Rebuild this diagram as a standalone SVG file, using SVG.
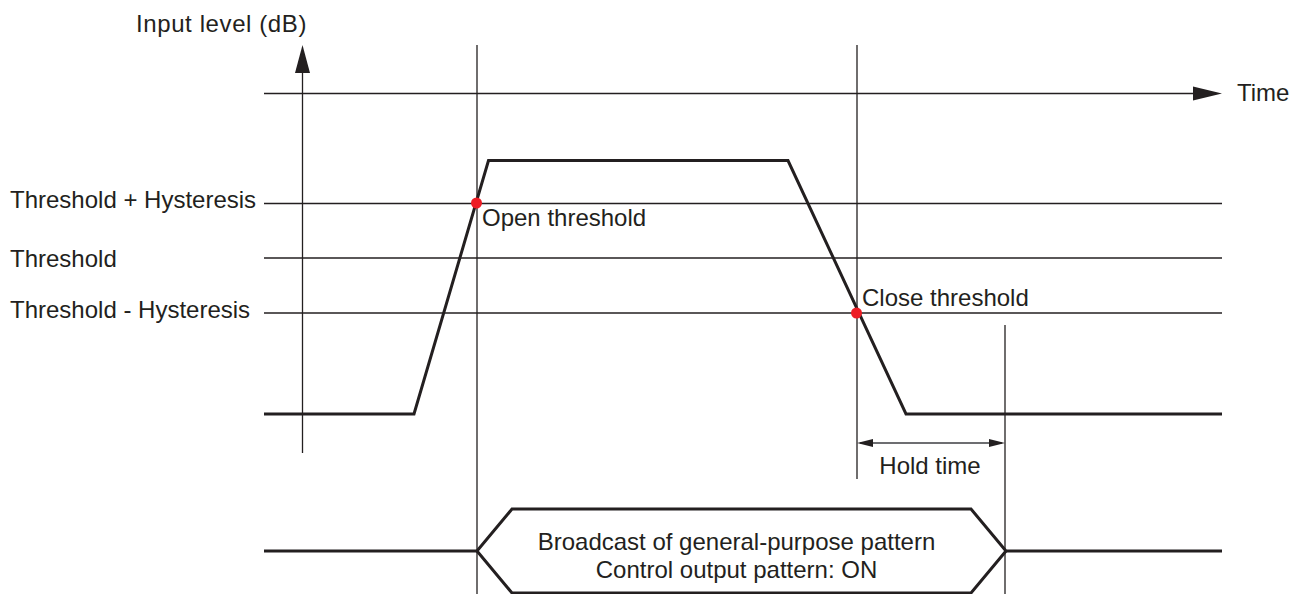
<svg xmlns="http://www.w3.org/2000/svg" width="1304" height="594" viewBox="0 0 1304 594">
<style>
text{font-family:"Liberation Sans",Arial,sans-serif;font-size:24px;fill:#231f20}
.thin{stroke:#231f20;stroke-width:1.3;fill:none}
.sig{stroke:#231f20;stroke-width:3;fill:none;stroke-linejoin:miter}
.dot{fill:#ed1c24}
.hold{stroke:#6d6e71;stroke-width:2;fill:none}
</style>
<rect width="1304" height="594" fill="#fff"/>
<g id="axes">
<line class="thin" x1="302.5" y1="453" x2="302.5" y2="70"/>
<polygon points="302.5,45 295,73 310,73" fill="#231f20"/>
<line class="thin" x1="264" y1="93.5" x2="1196" y2="93.5"/>
<polygon points="1222,93.5 1193,86.5 1193,100.5" fill="#231f20"/>
<text x="136" y="32" letter-spacing="0.6">Input level (dB)</text>
<text x="1237" y="101">Time</text>
</g>
<g id="levels">
<line class="thin" x1="264" y1="203.5" x2="1222" y2="203.5"/>
<line class="thin" x1="264" y1="258" x2="1222" y2="258"/>
<line class="thin" x1="264" y1="313" x2="1222" y2="313"/>
<text x="10" y="207.5">Threshold + Hysteresis</text>
<text x="10" y="267">Threshold</text>
<text x="10" y="317.5">Threshold - Hysteresis</text>
</g>
<g id="markers">
<line class="thin" x1="477" y1="45" x2="477" y2="594"/>
<line class="thin" x1="857" y1="45" x2="857" y2="479"/>
<line class="thin" x1="1005" y1="325" x2="1005" y2="594"/>
</g>
<g id="signal">
<polyline class="sig" points="264,414 414,414 488.5,160.5 788,160.5 906,414 1222,414"/>
<circle class="dot" cx="476.5" cy="203" r="5.5"/>
<circle class="dot" cx="856.5" cy="313" r="5.5"/>
<text x="482" y="226">Open threshold</text>
<text x="862" y="306">Close threshold</text>
</g>
<g id="connectors">
<line class="hold" x1="860" y1="443" x2="1002" y2="443"/>
<polygon points="857,443 873,439 873,447" fill="#231f20"/>
<polygon points="1005,443 989,439 989,447" fill="#231f20"/>
</g>
<g id="holdlabel">
<text x="930" y="474" text-anchor="middle">Hold time</text>
</g>
<g id="output">
<polyline class="sig" points="264,551 477,551 512,509 971,509 1006,551 1222,551"/>
<polyline class="sig" points="477,551 512,593 971,593 1006,551"/>
<text x="736.5" y="550" text-anchor="middle">Broadcast of general-purpose pattern</text>
<text x="736.5" y="578" text-anchor="middle">Control output pattern: ON</text>
</g>
</svg>
